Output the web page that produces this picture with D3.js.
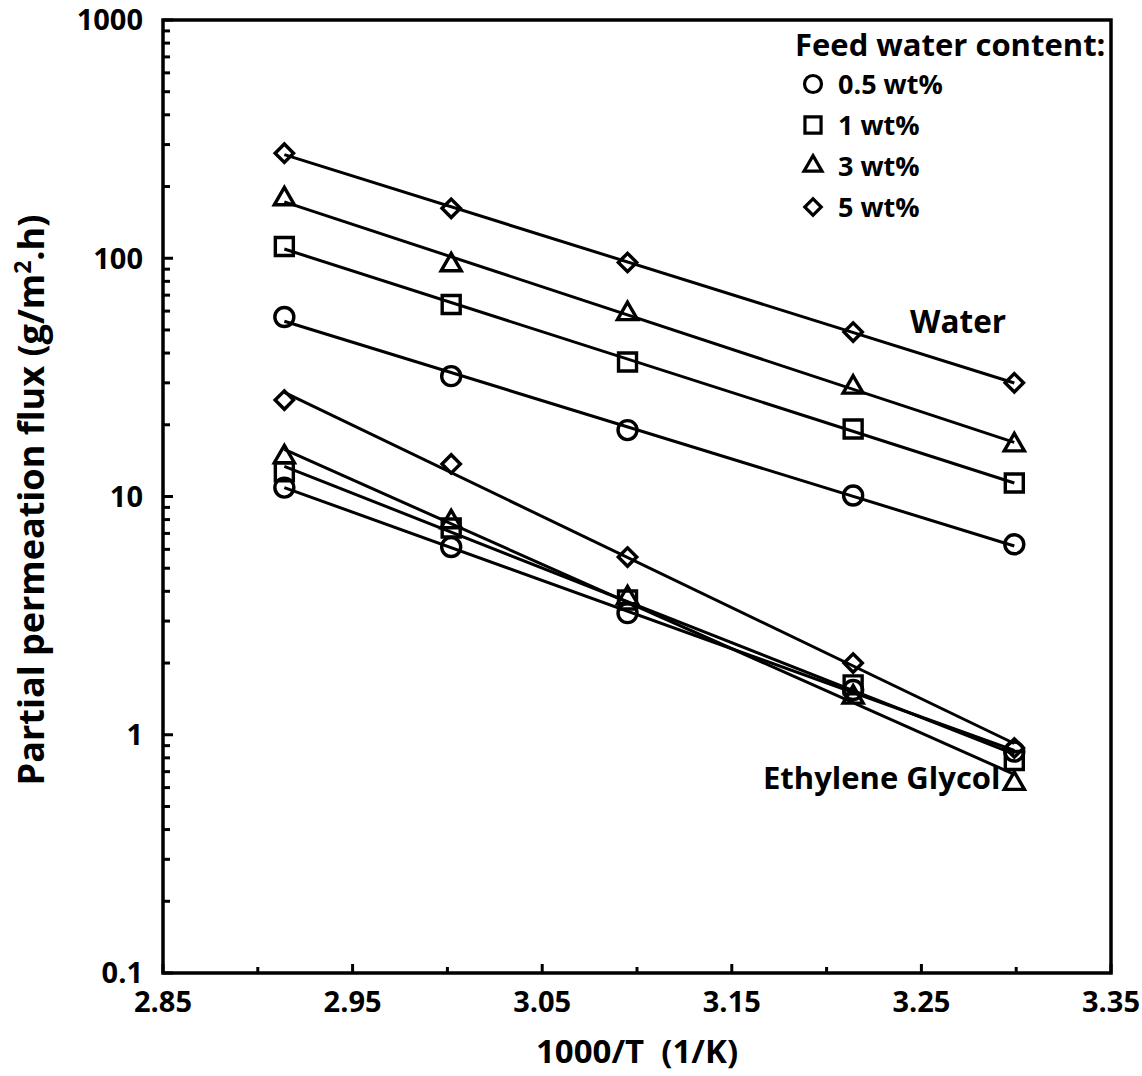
<!DOCTYPE html>
<html>
<head>
<meta charset="utf-8">
<script src="https://cdn.jsdelivr.net/npm/d3@7"></script>
<style>
  body { margin: 0; background: #fff; }
  text { font-family: "Open Sans", Lato, sans-serif; font-weight: bold; fill: #000; }
</style>
</head>
<body>
<div id="chart"></div>
<script>
// 1000/T values (1/K)
const invT = [2.914, 3.002, 3.095, 3.214, 3.299];

const contents = ["0.5 wt%", "1 wt%", "3 wt%", "5 wt%"];
const shapes = ["circle", "square", "triangle", "diamond"];

// water flux, g/m2.h
const water05 = [56.7, 32.0, 19.0, 10.1, 6.3];
const water1 = [112, 64, 36.7, 19.2, 11.4];
const water3 = [179, 94.6, 59, 29, 16.6];
const water5 = [276, 162, 96, 49, 30];

// ethylene glycol flux, g/m2.h
const eg05 = [10.9, 6.14, 3.24, 1.54, 0.85];
const eg1 = [12.7, 7.38, 3.68, 1.62, 0.78];
const eg3 = [14.8, 7.9, 3.79, 1.45, 0.63];
const eg5 = [25.4, 13.7, 5.57, 2.0, 0.88];

const xTicks = [2.85, 2.95, 3.05, 3.15, 3.25, 3.35];
const yTicks = [0.1, 1, 10, 100, 1000];

const series = [
  { shape: "circle", values: water05 },
  { shape: "square", values: water1 },
  { shape: "triangle", values: water3 },
  { shape: "diamond", values: water5 },
  { shape: "circle", values: eg05 },
  { shape: "square", values: eg1 },
  { shape: "triangle", values: eg3 },
  { shape: "diamond", values: eg5 }
];

const width = 1142, height = 1076;
const margin = { top: 20, right: 31, bottom: 103, left: 163 };

const svg = d3.select("#chart").append("svg")
  .attr("width", width)
  .attr("height", height);

const x = d3.scaleLinear().domain([2.85, 3.35]).range([margin.left, width - margin.right]);
const y = d3.scaleLog().domain([0.1, 1000]).range([height - margin.bottom, margin.top]);

const marker = {
  circle: d3.symbol().type(d3.symbolCircle).size(Math.PI * 9.5 * 9.5),
  square: d3.symbol().type(d3.symbolSquare).size(18 * 18),
  triangle: d3.symbol().type(d3.symbolTriangle).size(175),
  diamond: d3.symbol().type(d3.symbolSquare).size(13 * 13)
};

function drawMarker(g, shape, cx, cy) {
  const rot = shape === "diamond" ? " rotate(45)" : "";
  const dy = shape === "triangle" ? 1 : 0;
  g.append("path")
    .attr("d", marker[shape]())
    .attr("transform", `translate(${cx},${cy + dy})${rot}`)
    .attr("fill", "none")
    .attr("stroke", "#000")
    .attr("stroke-width", 3.4);
}

// axis ticks, all pointing inward
const ax = svg.append("g").attr("stroke", "#000");
const minorX = d3.range(2.9, 3.34, 0.1);
xTicks.concat(minorX).forEach(v => {
  const major = xTicks.includes(v);
  ax.append("line")
    .attr("x1", x(v)).attr("x2", x(v))
    .attr("y1", y(0.1)).attr("y2", y(0.1) - (major ? 9 : 6))
    .attr("stroke-width", 3);
});
const minorY = [];
[0.1, 1, 10, 100].forEach(d => d3.range(2, 10).forEach(k => minorY.push(d * k)));
yTicks.forEach(v => {
  ax.append("line")
    .attr("x1", x(2.85)).attr("x2", x(2.85) + 10)
    .attr("y1", y(v)).attr("y2", y(v))
    .attr("stroke-width", 3);
});
minorY.forEach(v => {
  ax.append("line")
    .attr("x1", x(2.85)).attr("x2", x(2.85) + 7)
    .attr("y1", y(v)).attr("y2", y(v))
    .attr("stroke-width", 3);
});

// frame
svg.append("rect")
  .attr("x", x(2.85)).attr("y", y(1000))
  .attr("width", x(3.35) - x(2.85))
  .attr("height", y(0.1) - y(1000))
  .attr("fill", "none")
  .attr("stroke", "#000")
  .attr("stroke-width", 3.5);

// tick labels
svg.append("g").selectAll("text").data(xTicks).join("text")
  .attr("x", d => x(d))
  .attr("y", 1012)
  .attr("text-anchor", "middle")
  .style("font-size", "29px")
  .text(d => d.toFixed(2));

svg.append("g").selectAll("text").data(yTicks).join("text")
  .attr("x", 143)
  .attr("y", d => y(d))
  .attr("dy", "0.36em")
  .attr("text-anchor", "end")
  .style("font-size", "29px")
  .text(d => d);

// axis titles
svg.append("text")
  .attr("x", x(3.1))
  .attr("y", 1063)
  .attr("text-anchor", "middle")
  .style("font-size", "33px")
  .attr("xml:space", "preserve")
  .text("1000/T  (1/K)");

const yt = svg.append("text")
  .attr("transform", "translate(44,500) rotate(-90)")
  .attr("text-anchor", "middle")
  .style("font-size", "36px");
yt.append("tspan").text("Partial permeation flux (g/m");
yt.append("tspan").attr("dy", -13).style("font-size", "23px").text("2");
yt.append("tspan").attr("dy", 13).text(".h)");

// Arrhenius fit lines (least squares on log10 flux)
function fit(vals) {
  const ly = vals.map(Math.log10);
  const mx = d3.mean(invT), my = d3.mean(ly);
  const b = d3.sum(invT, (v, i) => (v - mx) * (ly[i] - my)) / d3.sum(invT, v => (v - mx) ** 2);
  const a = my - b * mx;
  return t => Math.pow(10, a + b * t);
}

const line = d3.line().x(d => x(d[0])).y(d => y(d[1]));

series.forEach(s => {
  const f = fit(s.values);
  const ends = [invT[0], invT[invT.length - 1]];
  svg.append("path")
    .attr("d", line(ends.map(t => [t, f(t)])))
    .attr("fill", "none")
    .attr("stroke", "#000")
    .attr("stroke-width", 3);
  const g = svg.append("g");
  s.values.forEach((v, i) => drawMarker(g, s.shape, x(invT[i]), y(v)));
});

// labels for the two groups
svg.append("text").attr("x", 910).attr("y", 333).style("font-size", "31.5px").text("Water");
svg.append("text").attr("x", 763).attr("y", 789).style("font-size", "31px").text("Ethylene Glycol");

// legend
const lg = svg.append("g");
lg.append("text").attr("x", 795).attr("y", 56).style("font-size", "31px").text("Feed water content:");
contents.forEach((c, i) => {
  const cy = 84 + i * 41;
  const shape = shapes[i];
  const k = 0.8;
  lg.append("path")
    .attr("d", marker[shape].size(marker[shape].size()() * k)())
    .attr("transform", `translate(813,${cy})${shape === "diamond" ? " rotate(45)" : ""}`)
    .attr("fill", "none")
    .attr("stroke", "#000")
    .attr("stroke-width", 3.2);
  lg.append("text")
    .attr("x", 838)
    .attr("y", cy)
    .attr("dy", "0.36em")
    .style("font-size", "27px")
    .text(c);
});
</script>
</body>
</html>
